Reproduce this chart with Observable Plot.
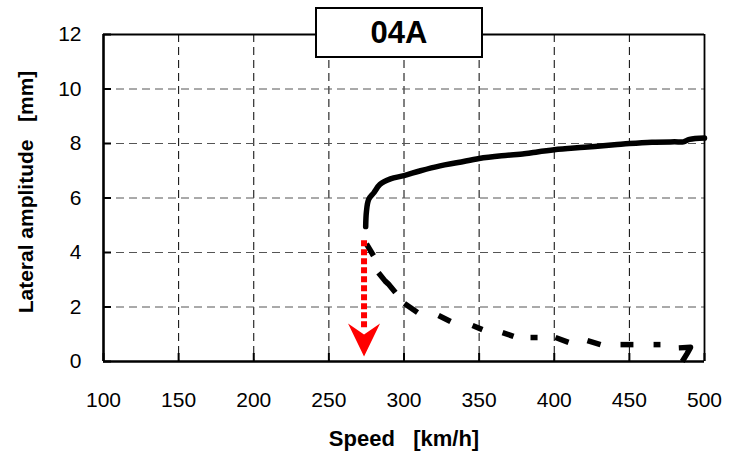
<!DOCTYPE html>
<html>
<head>
<meta charset="utf-8">
<script src="https://cdn.jsdelivr.net/npm/d3@7"></script>
<script src="https://cdn.jsdelivr.net/npm/@observablehq/plot@0.6"></script>
<style>
  html, body { margin: 0; padding: 0; background: #fff; }
  #wrap { position: relative; width: 730px; height: 460px; font-family: "Liberation Sans", Arial, sans-serif; }
  #title { position: absolute; left: 315px; top: 7px; width: 168px; height: 51px; box-sizing: border-box;
           border: 2px solid #000; background: #fff; font-weight: bold; font-size: 31px; text-align: center; line-height: 47px; }
</style>
</head>
<body>
<div id="wrap"><div id="title">04A</div></div>
<script>
// ---- data ----
const xTicks = [100, 150, 200, 250, 300, 350, 400, 450, 500];
const yTicks = [0, 2, 4, 6, 8, 10, 12];

// stable branch (solid)
const upperSpeed = [274.5, 275, 276.5, 280, 284, 291, 300, 311, 324, 336, 350, 365, 380, 385, 400, 420, 440, 450, 465, 480, 486, 490, 500];
const upperAmp   = [4.95, 5.5, 5.95, 6.2, 6.5, 6.7, 6.82, 7.0, 7.18, 7.3, 7.45, 7.55, 7.62, 7.66, 7.77, 7.86, 7.95, 8.0, 8.05, 8.06, 8.06, 8.15, 8.2];

// unstable branch (dashed): each dash is one short series
const lowerDash  = [1, 1, 2, 2, 2, 2, 3, 3, 4, 4, 5, 5, 6, 6, 7, 7, 8, 8, 9, 9, 10, 10, 11, 11, 12, 12, 12, 12];
const lowerSpeed = [275.0, 279.7, 283.0, 287.5, 289.5, 294.3, 300.3, 309.0, 323.0, 331.0, 345.6, 352.2, 365.6, 372.9, 384.2, 388.9, 400.8, 409.5, 422.1, 430.8, 444.1, 452.7, 466.1, 470.7, 482.9, 490.7, 488.5, 485.2];
const lowerAmp   = [4.32, 3.88, 3.26, 2.95, 2.85, 2.53, 2.13, 1.80, 1.69, 1.47, 1.32, 1.17, 1.06, 0.92, 0.88, 0.88, 0.88, 0.70, 0.77, 0.62, 0.62, 0.62, 0.62, 0.62, 0.50, 0.52, 0.30, 0.00];

// red arrow (onset speed)
const arrowSpeed = [273.4, 273.4];
const arrowAmp   = [4.45, 1.25];
const arrowTip   = [{s: 273.4, a: 0.18}];

const xTitle = "Speed\u00a0\u00a0\u00a0[km/h]";
const yTitle = "Lateral amplitude\u00a0\u00a0\u00a0[mm]";

const upper = upperSpeed.map((s, i) => ({s, a: upperAmp[i]}));
const lower = lowerSpeed.map((s, i) => ({s, a: lowerAmp[i], d: lowerDash[i]}));
const arrowLine = arrowSpeed.map((s, i) => ({s, a: arrowAmp[i]}));

const headSymbol = {
  draw(ctx) {
    ctx.moveTo(0, 0);
    ctx.lineTo(-16, -33);
    ctx.lineTo(0, -22);
    ctx.lineTo(16, -33);
    ctx.closePath();
  }
};

const font = "Liberation Sans, Arial, sans-serif";

const chart = Plot.plot({
  width: 730,
  height: 460,
  marginLeft: 103,
  marginRight: 26,
  marginTop: 34,
  marginBottom: 99,
  style: {fontFamily: font, background: "transparent", overflow: "visible"},
  x: {domain: [100, 500], label: null},
  y: {domain: [0, 12], label: null},
  marks: [
    Plot.gridX(xTicks.slice(1, -1), {stroke: "#000", strokeOpacity: 1, strokeWidth: 1, strokeDasharray: "8,5"}),
    Plot.gridY(yTicks.slice(1, -1), {stroke: "#555", strokeOpacity: 1, strokeWidth: 1, strokeDasharray: "8,5"}),
    // inner ticks
    Plot.axisX(xTicks, {tickSize: 8, dy: -8, text: null, strokeWidth: 2, label: null}),
    Plot.axisY(yTicks, {tickSize: 8, dx: 8, text: null, strokeWidth: 2, label: null}),
    // labels
    Plot.axisX(xTicks, {tickSize: 0, tickPadding: 31, fontSize: 21, fill: "#000", label: null}),
    Plot.axisY(yTicks, {tickSize: 0, tickPadding: 22, fontSize: 21, fill: "#000", label: null}),
    // frame
    Plot.ruleX([500], {stroke: "#000", strokeWidth: 1.8}),
    Plot.ruleY([12], {stroke: "#000", strokeWidth: 1.8}),
    Plot.ruleX([100], {stroke: "#000", strokeWidth: 2.6}),
    Plot.ruleY([0], {stroke: "#000", strokeWidth: 2.6}),
    // curves
    Plot.line(upper, {x: "s", y: "a", stroke: "#000", strokeWidth: 5.5, curve: "catmull-rom", strokeLinecap: "round"}),
    Plot.line(lower, {x: "s", y: "a", z: "d", stroke: "#000", strokeWidth: 5.5, strokeLinecap: "butt", strokeLinejoin: "round"}),
    // red arrow
    Plot.line(arrowLine, {x: "s", y: "a", stroke: "#ff0000", strokeWidth: 6, strokeDasharray: "6,3", strokeLinecap: "butt"}),
    Plot.dot(arrowTip, {x: "s", y: "a", r: 5, symbol: headSymbol, fill: "#ff0000", stroke: "none"}),
    // axis titles
    Plot.text([xTitle], {frameAnchor: "bottom", dy: 84, fontSize: 22, fontWeight: "bold", fill: "#000", lineAnchor: "bottom", textAnchor: "middle"}),
    Plot.text([yTitle], {frameAnchor: "left", dx: -77, dy: -6, rotate: -90, fontSize: 21, fontWeight: "bold", fill: "#000", textAnchor: "middle"})
  ]
});

document.getElementById("wrap").insertBefore(chart, document.getElementById("title"));
</script>
</body>
</html>
